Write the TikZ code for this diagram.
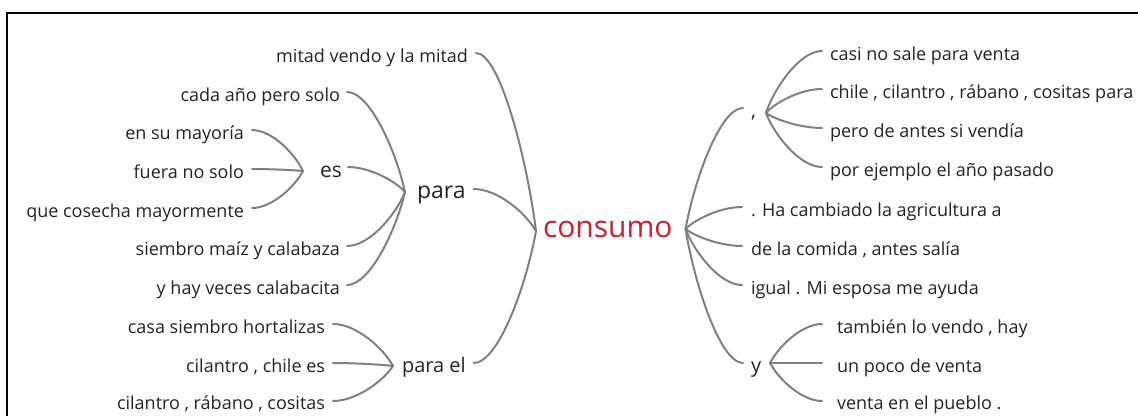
\documentclass[tikz,border=0pt]{standalone}
\usepackage{fontspec}
\setmainfont{Open Sans}
\usetikzlibrary{calc}
\definecolor{txt}{RGB}{35,35,35}
\definecolor{lnc}{RGB}{128,128,128}
\definecolor{redc}{RGB}{205,30,45}
\newcommand\brc[2]{\draw[br] let \p1=(#1), \p2=(#2),
  \p3=($0.6*(\p1)+0.4*(\p2)$), \p4=($0.85*(\p2)+0.15*(\p1)$),
  \p5=($0.6*(\p2)+0.4*(\p1)$) in
  (\p1) .. controls (\x3,\y1) and (\x4,\y5) .. (\p2);}
\begin{document}
\begin{tikzpicture}[x=1pt,y=-1pt,
  leaf/.style={inner sep=0pt, outer sep=0pt, text=txt, font=\fontsize{18}{20}\selectfont},
  midw/.style={inner sep=0pt, outer sep=0pt, text=txt},
  br/.style={draw=lnc, line width=2pt, line cap=round}]
\useasboundingbox (0,0) rectangle (1138,416);
\draw[line width=2.5pt] (7,416) -- (7,13) -- (1138,13);

% central
\node[midw, anchor=mid west, text=redc, font=\fontsize{30}{32}\selectfont] (cons) at (543,235) {consumo};
\coordinate (jcL) at ([xshift=-7pt,yshift=4pt]cons.mid west);
\coordinate (jcR) at ([xshift=13pt,yshift=6pt]cons.mid east);

% left mid nodes
\node[midw, anchor=mid west, font=\fontsize{21}{23}\selectfont] (es) at (320,175) {es};
\node[midw, anchor=mid west, font=\fontsize{23}{25}\selectfont] (para) at (417,196) {para};
\node[midw, anchor=mid west, font=\fontsize{20}{22}\selectfont] (parael) at (402,370) {para el};
\coordinate (jes) at ([xshift=-17pt,yshift=4pt]es.mid west);
\coordinate (jpara) at ([xshift=-12pt,yshift=4pt]para.mid west);
\coordinate (jparael) at ([xshift=-9pt,yshift=4pt]parael.mid west);

% left leaves
\node[leaf, anchor=mid east] (l1) at (468,60) {mitad vendo y la mitad};
\node[leaf, anchor=mid east] (l2) at (340,99) {cada año pero solo};
\node[leaf, anchor=mid east] (l3) at (244,137) {en su mayoría};
\node[leaf, anchor=mid east] (l4) at (244,176) {fuera no solo};
\node[leaf, anchor=mid east] (l5) at (244,215) {que cosecha mayormente};
\node[leaf, anchor=mid east] (l6) at (340,253) {siembro maíz y calabaza};
\node[leaf, anchor=mid east] (l7) at (340,292) {y hay veces calabacita};
\node[leaf, anchor=mid east] (l8) at (325,331) {casa siembro hortalizas};
\node[leaf, anchor=mid east] (l9) at (325,370) {cilantro , chile es};
\node[leaf, anchor=mid east] (l10) at (325,407) {cilantro , rábano , cositas};

\brc{[xshift=8pt,yshift=7pt]l1.mid east}{jcL}
\brc{[xshift=8pt,yshift=7pt]para.mid east}{jcL}
\brc{[xshift=8pt,yshift=7pt]parael.mid east}{jcL}
\brc{[xshift=7pt,yshift=7pt]l2.mid east}{jpara}
\brc{[xshift=6pt,yshift=8pt]es.mid east}{jpara}
\brc{[xshift=7pt,yshift=7pt]l6.mid east}{jpara}
\brc{[xshift=7pt,yshift=7pt]l7.mid east}{jpara}
\brc{[xshift=8pt,yshift=7pt]l3.mid east}{jes}
\brc{[xshift=8pt,yshift=7pt]l4.mid east}{jes}
\brc{[xshift=8pt,yshift=7pt]l5.mid east}{jes}
\brc{[xshift=8pt,yshift=7pt]l8.mid east}{jparael}
\brc{[xshift=8pt,yshift=7pt]l9.mid east}{jparael}
\brc{[xshift=8pt,yshift=6pt]l10.mid east}{jparael}

% right side
\node[midw, anchor=base west, font=\fontsize{20}{22}\selectfont] (cm) at (751,117) {,};
\coordinate (jcm) at ([xshift=10pt,yshift=4pt]cm.base east);
\node[leaf, anchor=mid west] (rc1) at (830,58) {casi no sale para venta};
\node[leaf, anchor=mid west] (rc2) at (830,96) {chile , cilantro , rábano , cositas para};
\node[leaf, anchor=mid west] (rc3) at (830,135) {pero de antes si vendía};
\node[leaf, anchor=mid west] (rc4) at (830,174) {por ejemplo el año pasado};
\node[leaf, anchor=mid west] (r2) at (751,214) {. Ha cambiado la agricultura a};
\node[leaf, anchor=mid west] (r3) at (751,253) {de la comida , antes salía};
\node[leaf, anchor=mid west] (r4) at (751,292) {igual . Mi esposa me ayuda};
\node[midw, anchor=mid west, font=\fontsize{20}{22}\selectfont] (yn) at (751,370) {y};
\coordinate (jy) at ([xshift=9pt,yshift=7pt]yn.mid east);
\node[leaf, anchor=mid west] (ry1) at (837,331) {también lo vendo , hay};
\node[leaf, anchor=mid west] (ry2) at (837,370) {un poco de venta};
\node[leaf, anchor=mid west] (ry3) at (837,407) {venta en el pueblo .};

\brc{[xshift=-8pt,yshift=9pt]cm.base west}{jcR}
\brc{[xshift=-9pt,yshift=7pt]r2.mid west}{jcR}
\brc{[xshift=-9pt,yshift=7pt]r3.mid west}{jcR}
\brc{[xshift=-9pt,yshift=7pt]r4.mid west}{jcR}
\brc{[xshift=-8pt,yshift=7pt]yn.mid west}{jcR}
\brc{[xshift=-8pt,yshift=7pt]rc1.mid west}{jcm}
\brc{[xshift=-8pt,yshift=7pt]rc2.mid west}{jcm}
\brc{[xshift=-8pt,yshift=7pt]rc3.mid west}{jcm}
\brc{[xshift=-8pt,yshift=7pt]rc4.mid west}{jcm}
\brc{[xshift=-15pt,yshift=7pt]ry1.mid west}{jy}
\brc{[xshift=-15pt,yshift=7pt]ry2.mid west}{jy}
\brc{[xshift=-15pt,yshift=6pt]ry3.mid west}{jy}
\end{tikzpicture}
\end{document}
